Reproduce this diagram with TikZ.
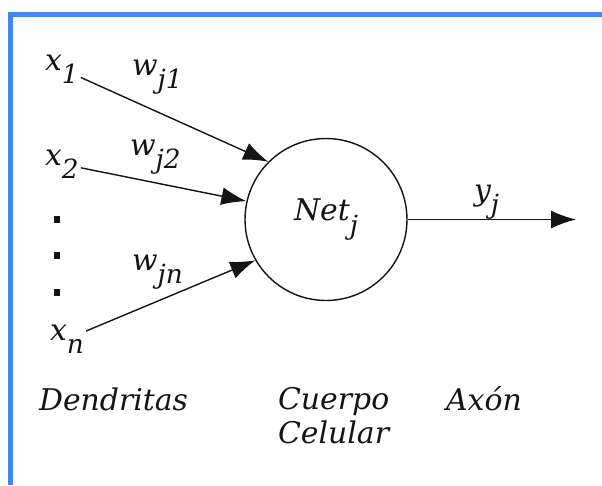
\documentclass[tikz,border=0pt]{standalone}
\usepackage{fontspec}
\setmainfont{DejaVu Serif}
\usetikzlibrary{arrows.meta,positioning}
\definecolor{ink}{RGB}{20,20,20}
\definecolor{edge}{RGB}{68,134,245}
\newcommand{\low}[1]{\raisebox{-0.45em}{\fontsize{15}{15}\selectfont #1}}

\begin{document}
\begin{tikzpicture}[x=0.02cm,y=-0.02cm,
      every node/.style={font=\fontsize{17}{19}\selectfont\itshape,
        text=ink,inner sep=1pt},
      arr/.style={-{Latex[length=5mm,width=3.6mm]},line width=0.8pt,ink},
      dot/.style={fill=ink,minimum size=0.14cm,inner sep=0pt}
    ]
      \useasboundingbox (0,0) rectangle (602,485);
      \draw[edge,line width=2.8pt] (10.5,485) -- (10.5,14.5) -- (602,14.5);

      \node[draw=ink,circle,line width=0.8pt,inner sep=0pt,
        minimum size=3.24cm] (net) at (326,219.5) {Net\low{j}};

      \node[anchor=base west] (x1) at (43,70)  {x\low{1}};
      \node[anchor=base west] (x2) at (43,165) {x\low{2}};
      \node[anchor=base west] (xn) at (48,340) {x\low{n}};
      \node[dot] (d1) at (57,219) {};
      \node[dot] (d2) at (57,255) {};
      \node[dot] (d3) at (57,292) {};

      \node[anchor=base west] (w1) at (130,75)  {w\low{j1}};
      \node[anchor=base west] (w2) at (128,155) {w\low{j2}};
      \node[anchor=base west] (wn) at (130,270) {w\low{jn}};

      \draw[arr] (x1) -- (net.135);
      \draw[arr] (x2) -- (net.167);
      \draw[arr] (xn) -- (net.210);

      \coordinate (out) at (576,219.5);
      \draw[arr] (net) -- (out);
      \node[anchor=base west] (yj) at (472,200) {y\low{j}};

      \node[anchor=base west] (dend) at (37,410) {Dendritas};
      \node[anchor=base west,align=left] (body) at (276,443)
        {Cuerpo\\Celular};
      \node[anchor=base west] (axon) at (444,410) {Axón};
    \end{tikzpicture}
\end{document}
